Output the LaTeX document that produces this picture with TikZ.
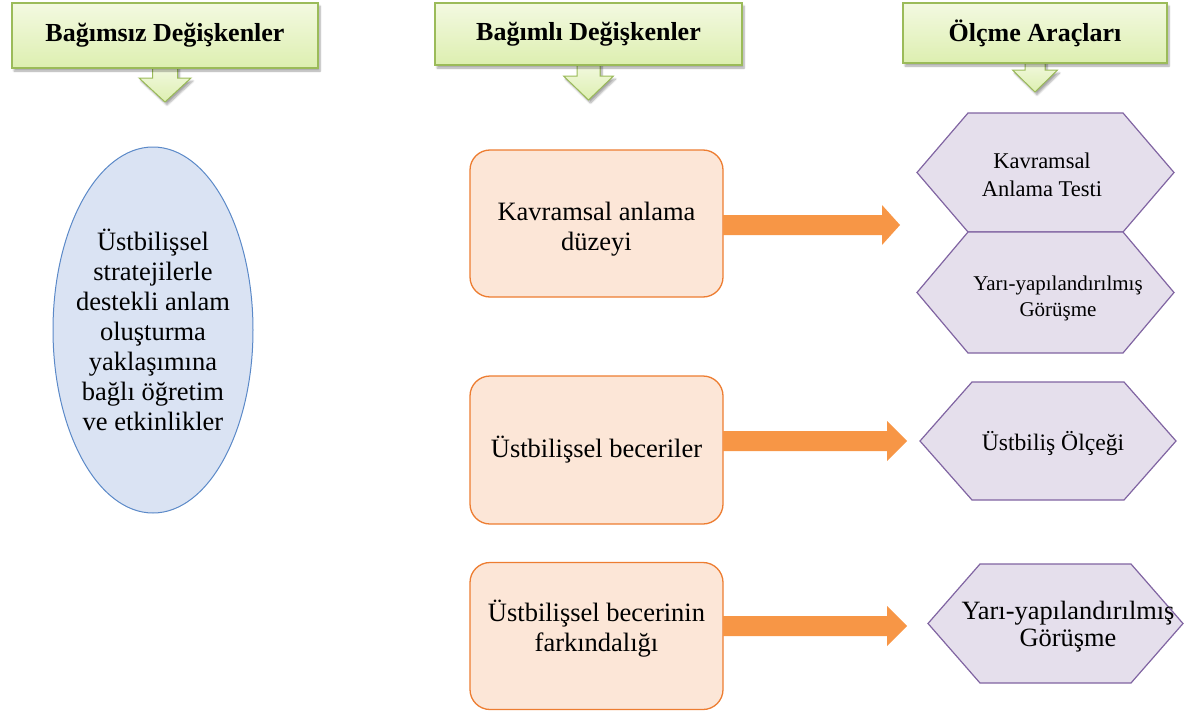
\documentclass[tikz,border=0pt]{standalone}
\usepackage{fontspec}
\setmainfont{Liberation Serif}
\usetikzlibrary{shapes.geometric,shadows.blur,calc}
\pgfdeclarelayer{background}
\pgfsetlayers{background,main}

\definecolor{hdrborder}{HTML}{9BBB59}
\definecolor{hdrtop}{HTML}{F3F9E1}
\definecolor{hdrbot}{HTML}{DDEFB0}
\definecolor{ellfill}{HTML}{DAE3F3}
\definecolor{elldraw}{HTML}{5B89C8}
\definecolor{boxfill}{HTML}{FCE6D7}
\definecolor{boxdraw}{HTML}{ED7D31}
\definecolor{arrowfill}{HTML}{F79646}
\definecolor{hexfill}{HTML}{E5DFEC}
\definecolor{hexdraw}{HTML}{8064A2}

\tikzset{
  hdrshadow/.style={blur shadow={shadow xshift=2pt, shadow yshift=-3pt,
      shadow blur steps=6, shadow opacity=35}},
  header/.style={draw=hdrborder, line width=1.3pt, top color=hdrtop,
      bottom color=hdrbot, inner sep=0pt, outer sep=0pt, hdrshadow,
      font=\fontsize{26}{30}\selectfont\bfseries},
  downarrow/.style={draw=hdrborder, line width=1pt, top color=hdrtop,
      bottom color=hdrbot, hdrshadow},
  idea/.style={ellipse, draw=elldraw, line width=1pt, fill=ellfill,
      inner xsep=-10pt, inner ysep=0pt, align=center,
      font=\fontsize{26.5}{30}\selectfont},
  varbox/.style={rectangle, rounded corners=20pt, draw=boxdraw,
      line width=1.3pt, fill=boxfill, inner sep=0pt, outer sep=0pt,
      minimum width=253pt},
  vartext/.style={align=center, inner sep=0pt,
      font=\fontsize{26.5}{30}\selectfont},
  hexslot/.style={rectangle, inner sep=0pt, outer sep=0pt},
  hexshape/.style={draw=hexdraw, line width=1.2pt, fill=hexfill},
  hextext/.style={align=center, inner sep=0pt},
  oarrow/.style={fill=arrowfill},
}

% block arrow: start point, shaft length, head length
\newcommand{\blockarrow}[3]{%
  \fill[oarrow] #1 ++(0,-10) -- ++(#2,0) -- ++(0,-10) -- ++(#3,20)
    -- ++(-#3,20) -- ++(0,-10) -- ++(-#2,0) -- cycle;}

\begin{document}
\begin{tikzpicture}[x=1pt,y=-1pt]
\useasboundingbox (0,0) rectangle (1184,712);

% ---- column headers with their downward arrows
\coordinate (a1) at (165,66);
\coordinate (a2) at (588.5,63);
\coordinate (a3) at (1035,61);
\filldraw[downarrow] ($(a1)+(-12.5,0)$) -- ++(0,12) -- ++(-13.5,0) -- ++(26,24)
  -- ++(26,-24) -- ++(-13.5,0) -- ++(0,-12) -- cycle;
\filldraw[downarrow] ($(a2)+(-11.5,0)$) -- ++(0,13) -- ++(-13.5,0) -- ++(25,24)
  -- ++(25,-24) -- ++(-13.5,0) -- ++(0,-13) -- cycle;
\filldraw[downarrow] ($(a3)+(-10,0)$) -- ++(0,9) -- ++(-12.5,0) -- ++(22.5,22)
  -- ++(22.5,-22) -- ++(-12.5,0) -- ++(0,-9) -- cycle;

\node[header, minimum width=306pt, minimum height=65pt] (hb1) at (165,35.5)
  {Bağımsız Değişkenler};
\node[header, minimum width=307pt, minimum height=62pt] (hb2) at (588.5,34)
  {Bağımlı Değişkenler};
\node[header, minimum width=264pt, minimum height=60pt] (hb3) at (1035,33)
  {Ölçme Araçları};

% ---- independent variable
\node[idea, minimum width=200pt, minimum height=366pt] (iv) at (153,330)
  {Üstbilişsel\\stratejilerle\\destekli anlam\\oluşturma\\yaklaşımına\\bağlı öğretim\\ve etkinlikler};

% ---- dependent variables
\node[varbox, minimum height=147pt] (r1) at (596.5,223.5) {};
\node[varbox, minimum height=148pt] (r2) at (596.5,450) {};
\node[varbox, minimum height=147pt] (r3) at (596.5,636) {};
\node[vartext] (r1t) at ([yshift=-6pt]r1.center) {Kavramsal anlama\\düzeyi};
\node[vartext] (r2t) at (r2.center) {Üstbilişsel beceriler};
\node[vartext] (r3t) at ([yshift=7pt]r3.center) {Üstbilişsel becerinin\\farkındalığı};

% ---- measurement tools (hexagons)
\node[hexslot, minimum width=257pt, minimum height=119pt] (h1) at (1045.5,172.5) {};
\node[hexslot, minimum width=257pt, minimum height=121pt] (h2) at (1045.5,292.5) {};
\node[hexslot, minimum width=256pt, minimum height=118pt] (h3) at (1048,441) {};
\node[hexslot, minimum width=255pt, minimum height=119pt] (h4) at (1055.5,623.5) {};
\begin{pgfonlayer}{background}
\foreach \h/\d in {h1/51,h2/51,h3/52,h4/52}{
  \filldraw[hexshape] ([xshift=\d pt]\h.north west) -- ([xshift=-\d pt]\h.north east)
    -- (\h.east) -- ([xshift=-\d pt]\h.south east) -- ([xshift=\d pt]\h.south west)
    -- (\h.west) -- cycle;
}
\end{pgfonlayer}
\node[hextext, font=\fontsize{22.5}{28}\selectfont] (t1) at (1042,175)
  {Kavramsal\\Anlama Testi};
\node[hextext, font=\fontsize{21}{26}\selectfont] (t2) at (1058,298)
  {Yarı-yapılandırılmış\\Görüşme};
\node[hextext, font=\fontsize{23.6}{28}\selectfont] (t3) at (1053,443)
  {Üstbiliş Ölçeği};
\node[hextext, font=\fontsize{26.4}{27}\selectfont] (t4) at (1068,626.5)
  {Yarı-yapılandırılmış\\Görüşme};

% ---- block arrows from each variable to its tools
\blockarrow{([yshift=-1.5pt]r1.east)}{159}{18}
\blockarrow{([yshift=9pt]r2.east)}{164}{20}
\blockarrow{([yshift=10pt]r3.east)}{164}{20}
\end{tikzpicture}
\end{document}
